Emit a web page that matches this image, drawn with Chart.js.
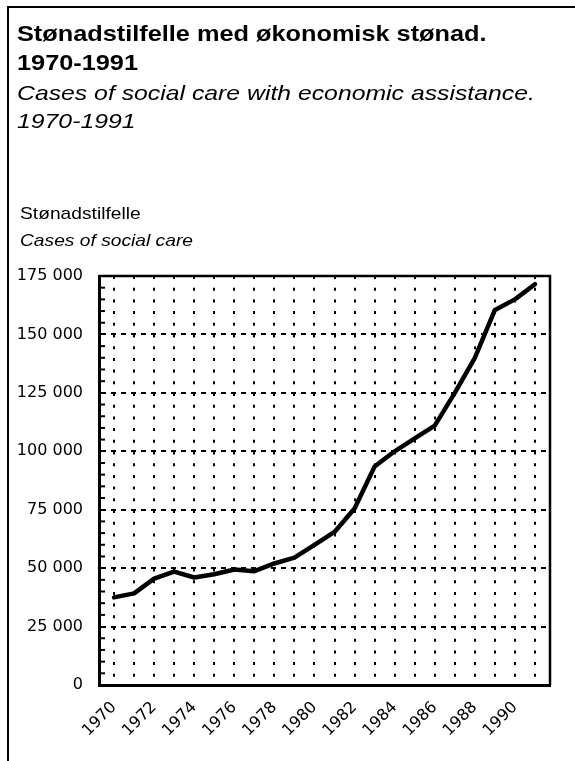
<!DOCTYPE html>
<html>
<head>
<meta charset="utf-8">
<script src="https://cdn.jsdelivr.net/npm/chart.js@4"></script>
<style>
  html, body { margin: 0; padding: 0; background: #fff; }
  #page { position: relative; width: 575px; height: 761px; overflow: hidden; background: #fff; }
  #frame { position: absolute; left: 7px; top: 6px; width: 640px; height: 800px;
           border-top: 2px solid #000; border-left: 2px solid #000; }
  .txt { position: absolute; left: 17px; white-space: nowrap; color: #000;
         font-family: "Liberation Sans", Arial, sans-serif; line-height: 1;
         transform-origin: left top; }
  .bold { font-weight: bold; font-size: 22px; transform: scaleX(1.15); }
  .ital { font-style: italic; font-size: 21px; transform: scaleX(1.18); }
  .ytitle { font-size: 17px; transform: scaleX(1.13); left: 20px; }
  .ytitle.i { font-style: italic; }
  #chart { position: absolute; left: 0; top: 0; }
</style>
</head>
<body>
<div id="page">
  <div id="frame"></div>
  <canvas id="chart" width="575" height="761"></canvas>
  <div class="txt bold" style="top:23px">Stønadstilfelle med økonomisk stønad.</div>
  <div class="txt bold" style="top:52px">1970-1991</div>
  <div class="txt ital" style="top:82px">Cases of social care with economic assistance.</div>
  <div class="txt ital" style="top:110px">1970-1991</div>
  <div class="txt ytitle" style="top:205px">Stønadstilfelle</div>
  <div class="txt ytitle i" style="top:232px">Cases of social care</div>
</div>
<script>
// Cases of social care with economic assistance, Norway 1970-1991

const years = [1970, 1971, 1972, 1973, 1974, 1975, 1976, 1977, 1978, 1979, 1980,
               1981, 1982, 1983, 1984, 1985, 1986, 1987, 1988, 1989, 1990, 1991];
const cases = [37500, 39200, 45500, 48500, 46000, 47400, 49400, 48700, 52000, 54500, 60000,
               65500, 75500, 93500, 100000, 105500, 111000, 125000, 140000, 160500, 165000, 171500];
const yTicks = [0, 25000, 50000, 75000, 100000, 125000, 150000, 175000];
const yMinorStep = 5000;
const xLabelYears = [1970, 1972, 1974, 1976, 1978, 1980, 1982, 1984, 1986, 1988, 1990];

function formatThousands(v) {
  if (v === 0) return "0";
  return Math.floor(v / 1000) + " 000";
}

// top/right edges of the plot box + short inward minor ticks on the y axis
const frameBox = {
  id: "frameBox",
  afterDraw: function (chart) {
    const ctx = chart.ctx;
    const a = chart.chartArea;
    const y = chart.scales.y;
    ctx.save();
    ctx.strokeStyle = "#000";
    ctx.lineWidth = 2.5;
    ctx.beginPath();
    ctx.moveTo(a.left, a.top);
    ctx.lineTo(a.right, a.top);
    ctx.lineTo(a.right, a.bottom);
    ctx.stroke();

    ctx.lineWidth = 2;
    for (let v = y.min + yMinorStep; v < y.max; v += yMinorStep) {
      if (v % 25000 === 0) continue;
      const py = y.getPixelForValue(v);
      ctx.beginPath();
      ctx.moveTo(a.left, py);
      ctx.lineTo(a.left + 6, py);
      ctx.stroke();
    }
    ctx.restore();
  }
};

const tickFont = { family: "DejaVu Sans", size: 16 };

new Chart(document.getElementById("chart"), {
  type: "line",
  data: {
    datasets: [{
      data: years.map(function (yr, i) { return { x: yr, y: cases[i] }; }),
      borderColor: "#000",
      borderWidth: 4.5,
      pointRadius: 0,
      tension: 0,
      borderJoinStyle: "round",
      borderCapStyle: "round"
    }]
  },
  options: {
    responsive: false,
    animation: false,
    layout: { padding: { top: 276, right: 25, left: 0, bottom: 0 } },
    plugins: { legend: { display: false }, tooltip: { enabled: false } },
    scales: {
      x: {
        type: "linear",
        min: 1969.25,
        max: 1991.75,
        afterBuildTicks: function (scale) {
          scale.ticks = years.map(function (v) { return { value: v }; });
        },
        afterFit: function (scale) { scale.height = 76; },
        ticks: {
          autoSkip: false,
          minRotation: 45,
          maxRotation: 45,
          padding: 13,
          color: "#000",
          font: tickFont,
          callback: function (v) { return xLabelYears.indexOf(v) !== -1 ? String(v) : ""; }
        },
        grid: { color: "#000", lineWidth: 2, drawTicks: false },
        border: { display: true, color: "#000", width: 3, dash: [3, 8.7] }
      },
      y: {
        min: 0,
        max: 175000,
        afterBuildTicks: function (scale) {
          scale.ticks = yTicks.map(function (v) { return { value: v }; });
        },
        afterFit: function (scale) { scale.width = 99; },
        ticks: {
          padding: 16,
          color: "#000",
          font: tickFont,
          callback: function (v) { return formatThousands(v); }
        },
        grid: { color: "#000", lineWidth: 2, drawTicks: false },
        border: { display: true, color: "#000", width: 3, dash: [5, 5] }
      }
    }
  },
  plugins: [frameBox]
});
</script>
</body>
</html>
